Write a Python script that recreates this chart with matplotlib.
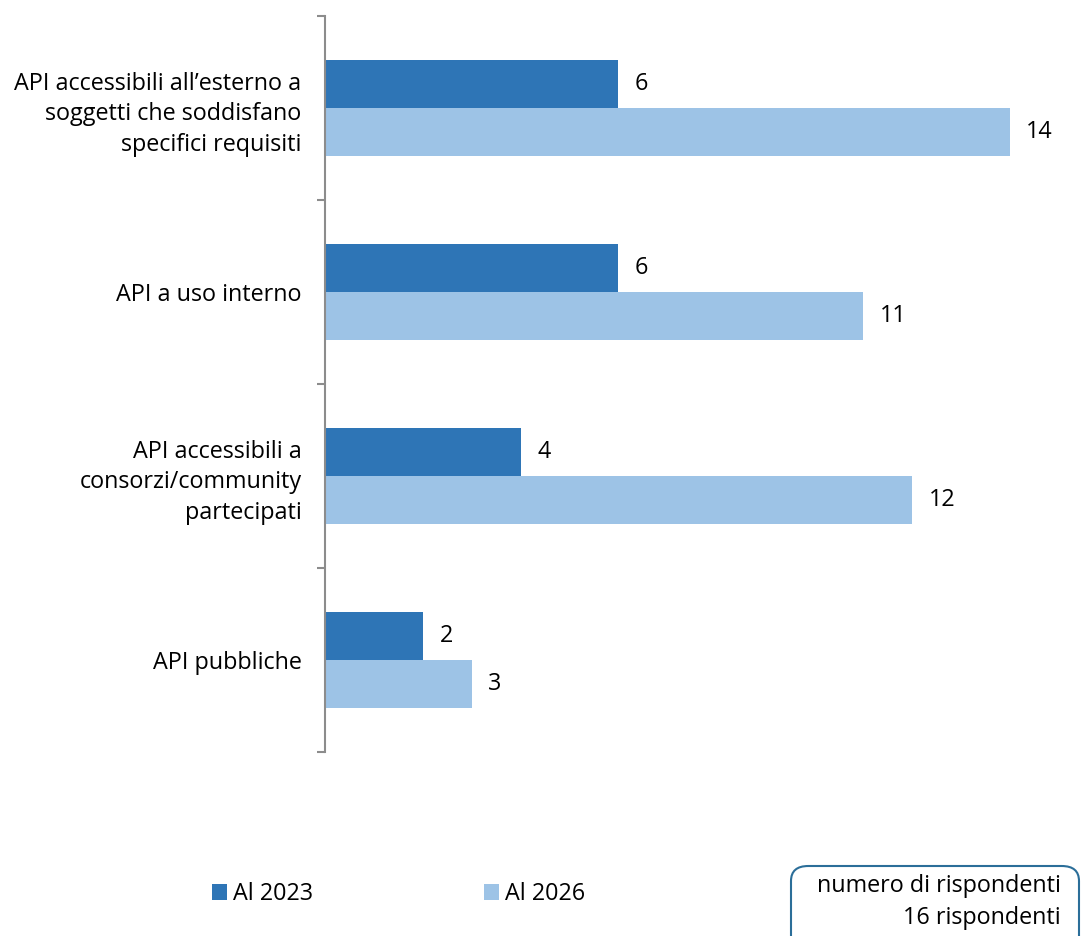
import numpy as np
import matplotlib
matplotlib.use("Agg")
import matplotlib.pyplot as plt
from matplotlib.patches import FancyBboxPatch

# ---------
# > Data <
# ---------
categories = [
    "API accessibili all\u2019esterno a\nsoggetti che soddisfano\nspecifici requisiti",
    "API a uso interno",
    "API accessibili a\nconsorzi/community\npartecipati",
    "API pubbliche",
]
values_2023 = [6, 6, 4, 2]
values_2026 = [14, 11, 12, 3]
series_labels = ["Al 2023", "Al 2026"]
note_lines = ["numero di rispondenti", "16 rispondenti"]

# color palette
DARK_BLUE = "#2E75B6"
LIGHT_BLUE = "#9DC3E6"
AXIS_GRAY = "#8C8C8C"
BOX_COLOR = "#2B6E99"

plt.rcParams["font.family"] = ["Open Sans", "DejaVu Sans"]
FONT_SIZE = 16.8

fig = plt.figure(figsize=(10.82, 9.36), dpi=100)
ax = fig.add_axes([325 / 1082, 1 - 752 / 936, 1 - 325 / 1082, (752 - 16) / 936])

y = np.arange(len(categories))
bar_h = 0.26
off = 0.13

bars_a = ax.barh(y - off, values_2023, height=bar_h, color=DARK_BLUE, label=series_labels[0])
bars_b = ax.barh(y + off, values_2026, height=bar_h, color=LIGHT_BLUE, label=series_labels[1])

# value labels next to each bar
for bars in (bars_a, bars_b):
    for rect in bars:
        w = rect.get_width()
        ax.annotate(f"{w:g}", (w, rect.get_y() + rect.get_height() / 2),
                    xytext=(12, 0), textcoords="offset points",
                    ha="left", va="center", fontsize=FONT_SIZE, color="black")

ax.set_xlim(0, 15.48)
ax.set_ylim(len(categories) - 0.5, -0.5)

# category labels on major ticks, separators on minor ticks
ax.set_yticks(y)
ax.set_yticklabels(categories, fontsize=FONT_SIZE, ha="right", linespacing=1.37)
ax.tick_params(axis="y", which="major", length=0, pad=17)
ax.set_yticks(np.arange(-0.5, len(categories)), minor=True)
ax.tick_params(axis="y", which="minor", length=6, width=1.5, color=AXIS_GRAY, direction="out")

ax.xaxis.set_visible(False)
for side in ("top", "right", "bottom"):
    ax.spines[side].set_visible(False)
ax.spines["left"].set_color(AXIS_GRAY)
ax.spines["left"].set_linewidth(1.5)

# legend below the plot
fig.legend(handles=[bars_a, bars_b], labels=series_labels,
           loc="center left", bbox_to_anchor=(212 / 1082, 1 - 894 / 936),
           ncol=2, frameon=False, fontsize=FONT_SIZE,
           handlelength=0.65, handleheight=0.65, handletextpad=0.26,
           columnspacing=7.3, borderpad=0, borderaxespad=0)

# respondents box in the lower right corner
box = FancyBboxPatch((791 / 1082, 1 - 960 / 936), 288 / 1082, 94 / 936,
                     boxstyle="round,pad=0,rounding_size=0.016",
                     transform=fig.transFigure, facecolor="white",
                     edgecolor=BOX_COLOR, linewidth=1.5, clip_on=False)
fig.patches.append(box)
fig.text(1061 / 1082, 1 - 886 / 936, note_lines[0], ha="right", va="center", fontsize=FONT_SIZE)
fig.text(1061 / 1082, 1 - 918 / 936, note_lines[1], ha="right", va="center", fontsize=FONT_SIZE)

fig.savefig("out.png", dpi=100)
